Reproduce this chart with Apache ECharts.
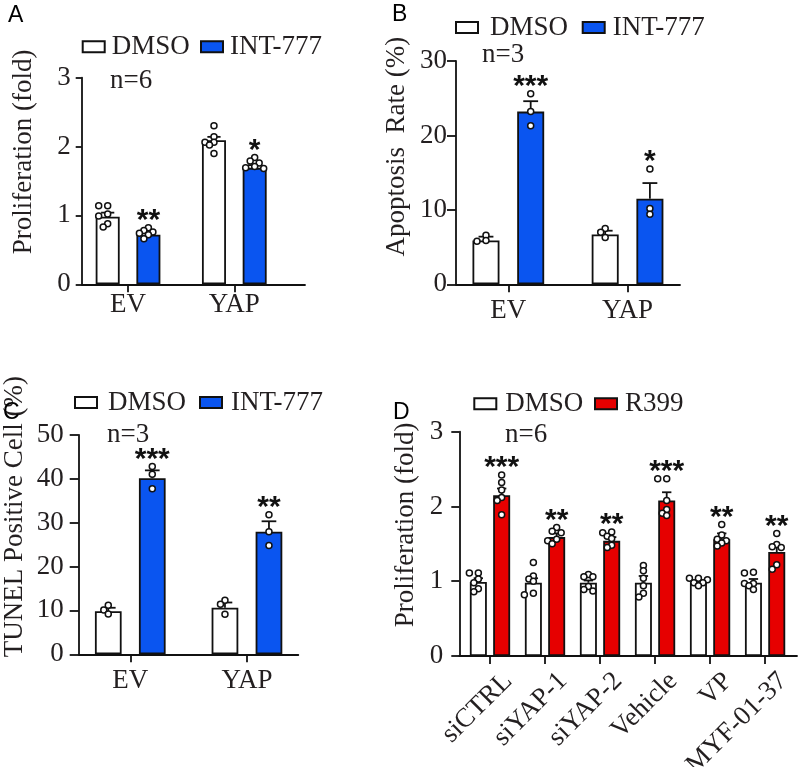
<!DOCTYPE html>
<html><head><meta charset="utf-8">
<script src="https://cdn.jsdelivr.net/npm/echarts@6/dist/echarts.min.js"></script>
<style>html,body{margin:0;padding:0;background:#fff}#c{width:799px;height:767px}</style>
</head><body><div id="c"></div>
<script>
// ================= DATA =================
// Panel A
const catsA = ['EV', 'YAP'];
const yTicksA = [0, 1, 2, 3];
const meanA_DMSO = [0.98, 2.09];
const meanA_INT = [0.72, 1.69];
const semA_DMSO = [0.06, 0.05];
const semA_INT = [0.03, 0.04];
const dotsA_DMSO = [[1.14, 1.14, 1.02, 0.99, 0.88, 0.83], [2.30, 2.14, 2.06, 2.06, 2.02, 1.90]];
const dotsA_INT = [[0.82, 0.78, 0.76, 0.74, 0.72, 0.66], [1.84, 1.79, 1.76, 1.71, 1.69, 1.68]];
const sigA = ['**', '*'];

// Panel B
const catsB = ['EV', 'YAP'];
const yTicksB = [0, 10, 20, 30];
const meanB_DMSO = [5.9, 6.7];
const meanB_INT = [23.2, 11.5];
const semB_DMSO = [0.5, 0.5];
const semB_INT = [1.4, 2.1];
const dotsB_DMSO = [[6.6, 5.9, 5.8], [7.5, 7.0, 6.3]];
const dotsB_INT = [[25.6, 23.2, 21.3], [15.5, 10.2, 9.4]];
const sigB = ['***', '*'];

// Panel C
const catsC = ['EV', 'YAP'];
const yTicksC = [0, 10, 20, 30, 40, 50];
const meanC_DMSO = [9.8, 10.6];
const meanC_INT = [40.1, 27.9];
const semC_DMSO = [0.8, 1.2];
const semC_INT = [1.8, 2.4];
const dotsC_DMSO = [[11.2, 10.1, 9.2], [12.3, 11.4, 9.1]];
const dotsC_INT = [[42.8, 41.0, 37.7], [31.8, 27.9, 24.8]];
const sigC = ['***', '**'];

// Panel D
const catsD = ['siCTRL', 'siYAP-1', 'siYAP-2', 'Vehicle', 'VP', 'MYF-01-37'];
const yTicksD = [0, 1, 2, 3];
const meanD_DMSO = [0.99, 0.98, 0.98, 0.98, 0.99, 0.98];
const meanD_R399 = [2.15, 1.59, 1.54, 2.08, 1.56, 1.39];
const semD_DMSO = [0.05, 0.06, 0.03, 0.09, 0.02, 0.05];
const semD_R399 = [0.09, 0.05, 0.05, 0.11, 0.08, 0.08];
const dotsD_DMSO = [
  [1.11, 1.11, 1.03, 0.98, 0.90, 0.86],
  [1.25, 1.07, 1.03, 1.00, 0.84, 0.82],
  [1.09, 1.06, 1.06, 0.93, 0.89, 0.87],
  [1.21, 1.14, 1.04, 0.94, 0.84, 0.79],
  [1.04, 1.04, 1.02, 0.98, 0.98, 0.94],
  [1.12, 1.11, 0.97, 0.97, 0.94, 0.89]
];
const dotsD_R399 = [
  [2.42, 2.32, 2.22, 2.12, 2.08, 1.89],
  [1.72, 1.67, 1.65, 1.56, 1.54, 1.50],
  [1.66, 1.65, 1.60, 1.57, 1.48, 1.45],
  [2.37, 2.37, 2.08, 1.96, 1.91, 1.88],
  [1.76, 1.62, 1.56, 1.54, 1.51, 1.47],
  [1.64, 1.49, 1.46, 1.45, 1.22, 1.16]
];
const sigD = ['***', '**', '**', '***', '**', '**'];

// ================= STYLE / LAYOUT =================
const SERIF = '"Liberation Serif", "Times New Roman", serif';
const SANS = '"Liberation Sans", Arial, sans-serif';
const TXT = '#231f20';
const INK = '#111111';
const BLUE = '#0a55f0';
const RED = '#e60000';
const FS = 27;

const panels = [
  {
    cats: catsA, yTicks: yTicksA, yName: 'Proliferation (fold)',
    groups: [
      { name: 'DMSO', color: '#ffffff', mean: meanA_DMSO, sem: semA_DMSO, dots: dotsA_DMSO },
      { name: 'INT-777', color: BLUE, mean: meanA_INT, sem: semA_INT, dots: dotsA_INT }
    ],
    sig: sigA,
    grid: { left: 81.7, top: 77.6, width: 223.3, height: 206.7 },
    xRange: [-0.436, 1.665], barW: 24, gapPx: 16.7,
    xLabelMargin: 7, yLabelMargin: 11, yTickLen: 6, nameGap: 44, namePad: 58,
    legendLeft: [81.7, 200], legendMid: 46.7, legendPad: [2, 2]
  },
  {
    cats: catsB, yTicks: yTicksB, yName: 'Apoptosis  Rate (%)',
    groups: [
      { name: 'DMSO', color: '#ffffff', mean: meanB_DMSO, sem: semB_DMSO, dots: dotsB_DMSO },
      { name: 'INT-777', color: BLUE, mean: meanB_INT, sem: semB_INT, dots: dotsB_INT }
    ],
    sig: sigB,
    grid: { left: 456, top: 61, width: 224, height: 223.3 },
    xRange: [-0.439, 1.44], barW: 27, gapPx: 17.7,
    xLabelMargin: 13, yLabelMargin: 9, yTickLen: 9, nameGap: 46, namePad: 52,
    legendLeft: [455, 581.7], legendMid: 27.5, legendPad: [7, 3]
  },
  {
    cats: catsC, yTicks: yTicksC, yName: 'TUNEL Positive Cell (%)',
    groups: [
      { name: 'DMSO', color: '#ffffff', mean: meanC_DMSO, sem: semC_DMSO, dots: dotsC_DMSO },
      { name: 'INT-777', color: BLUE, mean: meanC_INT, sem: semC_INT, dots: dotsC_INT }
    ],
    sig: sigC,
    grid: { left: 78.7, top: 434.8, width: 219.6, height: 219.5 },
    xRange: [-0.442, 1.44], barW: 26.7, gapPx: 17.3,
    xLabelMargin: 13, yLabelMargin: 15, yTickLen: 9, nameGap: 50, namePad: 56,
    legendLeft: [74, 199], legendMid: 402.5, legendPad: [6, 4]
  },
  {
    cats: catsD, yTicks: yTicksD, yName: 'Proliferation (fold)',
    groups: [
      { name: 'DMSO', color: '#ffffff', mean: meanD_DMSO, sem: semD_DMSO, dots: dotsD_DMSO },
      { name: 'R399', color: RED, mean: meanD_R399, sem: semD_R399, dots: dotsD_R399 }
    ],
    sig: sigD,
    grid: { left: 459.3, top: 431.7, width: 337.7, height: 224.3 },
    xRange: [-0.558, 5.58], barW: 17, gapPx: 6.3,
    xLabelMargin: 3, yLabelMargin: 16, yTickLen: 8, nameGap: 40, namePad: 38, rotate: 45, labelShift: 12,
    legendLeft: [473.3, 594], legendMid: 403.8, legendPad: [4, 3]
  }
];

const DOT = 6;        // dot diameter (px)
const DOT_STEP = 4.5; // horizontal jitter step (px)
const DOT_THR = 5;    // minimum centre distance before spreading (px)
function beeswarm(vals, pxPerUnit) {
  const placed = [];
  const cands = [0, -1, 1, -2, 2].map(k => k * DOT_STEP);
  return vals.map(v => {
    const y = v * pxPerUnit;
    let best = 0, bestD = -1;
    for (const x of cands) {
      const d = placed.length ? Math.min(...placed.map(p => Math.hypot(p[0] - x, p[1] - y))) : Infinity;
      if (d >= DOT_THR) { best = x; bestD = d; break; }
      if (d > bestD) { bestD = d; best = x; }
    }
    placed.push([best, y]);
    return best;
  });
}

const option = {
  animation: false,
  backgroundColor: '#ffffff',
  title: [],
  legend: [],
  grid: [],
  xAxis: [],
  yAxis: [],
  series: []
};

panels.forEach((p, pi) => {
  const yMin = p.yTicks[0], yMax = p.yTicks[p.yTicks.length - 1];
  const interval = p.yTicks[1] - p.yTicks[0];
  const pxPerUnit = p.grid.height / (yMax - yMin);
  const idxs = p.cats.map((c, i) => i);
  option.grid.push(Object.assign({ containLabel: false, outerBoundsMode: 'none' }, p.grid));
  option.xAxis.push({
    gridIndex: pi, type: 'value', min: p.xRange[0], max: p.xRange[1],
    splitLine: { show: false },
    axisLine: { show: true, onZero: true, lineStyle: { color: INK, width: 1.8 } },
    axisTick: { show: true, customValues: idxs, length: 8, lineStyle: { color: INK, width: 1.8 } },
    axisLabel: {
      customValues: idxs, formatter: v => p.cats[Math.round(v)],
      fontFamily: SERIF, fontSize: FS, color: TXT, margin: p.xLabelMargin,
      rotate: p.rotate || 0,
      align: p.rotate ? 'right' : 'center',
      verticalAlign: 'top',
      padding: p.labelShift ? [p.labelShift, 0, 0, 0] : 0
    }
  });
  option.yAxis.push({
    gridIndex: pi, type: 'value', min: yMin, max: yMax, interval: interval,
    splitLine: { show: false },
    axisLine: { show: true, onZero: false, lineStyle: { color: INK, width: 1.8 } },
    axisTick: { show: true, length: p.yTickLen, lineStyle: { color: INK, width: 1.8 } },
    axisLabel: { fontFamily: SERIF, fontSize: FS, color: TXT, margin: p.yLabelMargin },
    name: p.yName, nameLocation: 'middle', nameRotate: 90, nameGap: p.nameGap,
    nameTextStyle: { fontFamily: SERIF, fontSize: FS, color: TXT, padding: [0, 0, 0, p.namePad] }
  });

  const ng = p.groups.length;
  p.groups.forEach((g, gi) => {
    const off = (gi - (ng - 1) / 2) * (p.barW + p.gapPx);
    // bars
    option.series.push({
      type: 'bar', name: g.name, xAxisIndex: pi, yAxisIndex: pi,
      data: idxs.map(i => [i, g.mean[i]]),
      barWidth: p.barW, barGap: (p.gapPx / p.barW * 100).toFixed(1) + '%',
      itemStyle: { color: g.color, borderColor: INK, borderWidth: 1.8 },
      silent: true, z: 2
    });
    // error bars (mean -> mean + SEM)
    option.series.push({
      type: 'custom', name: 'err', xAxisIndex: pi, yAxisIndex: pi, z: 3, silent: true,
      data: idxs.map(i => [i, g.mean[i], g.sem[i]]),
      encode: { x: 0, y: 1 },
      renderItem: (params, api) => {
        const x = api.value(0), m = api.value(1), s = api.value(2);
        const p0 = api.coord([x, m]), p1 = api.coord([x, m + s]);
        const cx = p0[0] + off, cap = p.barW * 0.55;
        const st = { stroke: INK, lineWidth: 1.8 };
        return { type: 'group', children: [
          { type: 'line', shape: { x1: cx, y1: p0[1], x2: cx, y2: p1[1] }, style: st },
          { type: 'line', shape: { x1: cx - cap / 2, y1: p1[1], x2: cx + cap / 2, y2: p1[1] }, style: st }
        ] };
      }
    });
    // individual points
    const dotData = [];
    idxs.forEach(i => {
      const offs = beeswarm(g.dots[i], pxPerUnit);
      g.dots[i].forEach((v, k) => dotData.push({ value: [i, v], symbolOffset: [off + offs[k], 0] }));
    });
    option.series.push({
      type: 'scatter', name: 'pts', xAxisIndex: pi, yAxisIndex: pi, z: 4, silent: true,
      symbol: 'circle', symbolSize: DOT,
      itemStyle: { color: '#ffffff', borderColor: INK, borderWidth: 1.5, opacity: 1 },
      data: dotData
    });
    // significance stars over the treated group
    if (gi === ng - 1) {
      option.series.push({
        type: 'custom', name: 'sig', xAxisIndex: pi, yAxisIndex: pi, z: 5, silent: true,
        data: idxs.map(i => [i, Math.max(g.mean[i] + g.sem[i], ...g.dots[i])]),
        encode: { x: 0, y: 1 },
        renderItem: (params, api) => {
          const i = params.dataIndex;
          const pt = api.coord([api.value(0), api.value(1)]);
          return { type: 'text', x: pt[0] + off, y: pt[1] - 7,
            style: { text: p.sig[i], fill: INK, font: 'bold 30px ' + SANS,
              align: 'center', verticalAlign: 'middle' } };
        }
      });
    }
    // legend entry
    option.legend.push({
      left: p.legendLeft[gi], top: p.legendMid - FS / 2, padding: 0,
      data: [g.name], icon: 'rect', itemWidth: 22, itemHeight: 11,
      selectedMode: false,
      textStyle: { fontFamily: SERIF, fontSize: FS, color: TXT, lineHeight: FS, padding: [0, 0, 0, p.legendPad[gi]] }
    });
  });
});

// panel letters and n= annotations
const letters = [['A', 8, 4], ['B', 392, 3], ['C', 3, 401], ['D', 393, 401]];
letters.forEach(l => option.title.push({ text: l[0], left: l[1], top: l[2], padding: 0,
  textStyle: { fontFamily: SANS, fontSize: 23, fontWeight: 'normal', color: '#000' } }));
const nLabels = [['n=6', 110, 67], ['n=3', 482, 41], ['n=3', 107, 421], ['n=6', 505, 421]];
nLabels.forEach(l => option.title.push({ text: l[0], left: l[1], top: l[2], padding: 0,
  textStyle: { fontFamily: SERIF, fontSize: FS, fontWeight: 'normal', color: TXT } }));

const chart = echarts.init(document.getElementById('c'), null, { renderer: 'canvas' });
chart.setOption(option);
</script>
</body></html>
